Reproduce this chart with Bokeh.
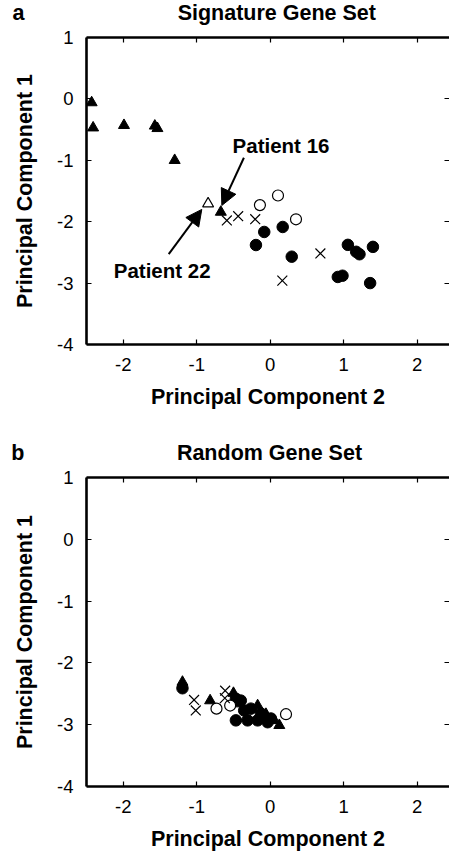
from bokeh.plotting import figure
from bokeh.layouts import column
from bokeh.models import Range1d, LinearAxis, FixedTicker, Label, Arrow, NormalHead
from bokeh.embed import file_html
from bokeh.resources import INLINE

FONT = "Liberation Sans"

# ---------------- data: panel a (Signature Gene Set) ----------------
a_tri_filled_x = [-2.43, -2.41, -1.99, -1.57, -1.535, -1.30, -0.672]
a_tri_filled_y = [-0.06, -0.47, -0.43, -0.44, -0.48, -1.00, -1.843]
a_tri_open_x = [-0.845]
a_tri_open_y = [-1.707]
a_circ_filled_x = [-0.081, -0.194, 0.17, 0.293, 1.057, 1.17, 1.215, 1.398, 0.92, 0.984, 1.36]
a_circ_filled_y = [-2.167, -2.38, -2.086, -2.57, -2.377, -2.49, -2.53, -2.41, -2.90, -2.88, -3.0]
a_circ_open_x = [-0.14, 0.106, 0.351]
a_circ_open_y = [-1.73, -1.573, -1.961]
a_cross_x = [-0.59, -0.436, -0.204, 0.683, 0.165]
a_cross_y = [-1.98, -1.91, -1.96, -2.517, -2.96]

# ---------------- data: panel b (Random Gene Set) ----------------
b_tri_filled_x = [-1.194, -0.818, -0.5, -0.42, -0.171, -0.058, 0.055, 0.124]
b_tri_filled_y = [-2.31, -2.61, -2.49, -2.66, -2.69, -2.83, -2.93, -3.01]
b_tri_open_x = []
b_tri_open_y = []
b_circ_filled_x = [-1.194, -0.467, -0.4, -0.467, -0.308, -0.354, -0.263, -0.171, -0.126, -0.035, 0.01]
b_circ_filled_y = [-2.41, -2.58, -2.61, -2.93, -2.93, -2.77, -2.74, -2.93, -2.82, -2.96, -2.9]
b_circ_open_x = [-0.731, -0.545, 0.215]
b_circ_open_y = [-2.74, -2.69, -2.83]
b_cross_x = [-1.036, -1.013, -0.613, -0.617]
b_cross_y = [-2.60, -2.77, -2.45, -2.57]

x_ticks = [-2, -1, 0, 1, 2]
y_ticks = [-4, -3, -2, -1, 0, 1]

# annotations for panel a
patient_labels = ["Patient 16", "Patient 22"]
patient_text_x = [0.147, -1.47]
patient_text_y = [-0.764, -2.80]
arrow_start_x = [-0.358, -1.381]
arrow_start_y = [-0.958, -2.528]
arrow_end_x = [-0.658, -0.931]
arrow_end_y = [-1.735, -1.80]

W = 449
X_START, X_END = -2.5, 2.44
BOLD_SIZE = "21.5px"


def style_axis(ax, ticks, labels=True):
    ax.major_tick_in = 5
    ax.major_tick_out = 0
    ax.minor_tick_line_color = None
    ax.major_tick_line_width = 1.2
    ax.major_tick_line_color = "black"
    ax.axis_line_width = 2.6
    ax.axis_line_color = "black"
    if labels:
        ax.major_label_overrides = {t: str(t) for t in ticks}
        ax.major_label_text_font = FONT
        ax.major_label_text_font_size = "18.5px"
        ax.major_label_text_color = "black"
        ax.major_label_standoff = 13
        ax.axis_label_text_font = FONT
        ax.axis_label_text_font_size = BOLD_SIZE
        ax.axis_label_text_font_style = "bold"
        ax.axis_label_text_color = "black"
    else:
        ax.major_label_text_font_size = "1px"
        ax.major_label_text_color = None
        ax.major_label_standoff = 0


def make_header(height, top_border, letter, title, title_x):
    # strip above each panel: panel letter (as an upright axis label) and the title
    h = figure(width=W, height=height, x_range=Range1d(X_START, X_END), y_range=Range1d(0, 1),
               output_backend="svg", toolbar_location=None,
               min_border_left=86, min_border_right=0,
               min_border_top=top_border, min_border_bottom=0,
               x_axis_location=None, y_axis_location=None)
    h.grid.visible = False
    h.outline_line_color = None
    lax = LinearAxis(ticker=FixedTicker(ticks=[]), axis_label=letter)
    lax.axis_line_color = None
    lax.major_tick_out = 0
    lax.major_tick_in = 0
    lax.minor_tick_line_color = None
    lax.major_label_text_font_size = "1px"
    lax.major_label_text_color = None
    lax.major_label_standoff = 0
    lax.axis_label_orientation = "horizontal"
    lax.axis_label_standoff = 62
    lax.axis_label_text_font = FONT
    lax.axis_label_text_font_size = "21.5px"
    lax.axis_label_text_font_style = "bold"
    lax.axis_label_text_color = "black"
    h.add_layout(lax, "left")
    h.add_layout(Label(x=title_x, y=0.5, text=title, text_font=FONT, text_font_size=BOLD_SIZE,
                       text_font_style="bold", text_align="center", text_baseline="middle",
                       text_color="black"))
    return h


def make_panel(height, top_border, bottom_border,
               tfx, tfy, tox, toy, cfx, cfy, cox, coy, xx, xy):
    p = figure(width=W, height=height,
               x_range=Range1d(X_START, X_END), y_range=Range1d(-4, 1),
               output_backend="svg", toolbar_location=None,
               min_border_left=86, min_border_right=0,
               min_border_top=top_border, min_border_bottom=bottom_border,
               x_axis_location=None, y_axis_location=None)
    p.grid.visible = False
    p.outline_line_color = None
    p.background_fill_color = "white"
    p.border_fill_color = "white"

    bottom = LinearAxis(ticker=FixedTicker(ticks=x_ticks), axis_label="Principal Component 2")
    style_axis(bottom, x_ticks)
    bottom.axis_label_standoff = 11
    p.add_layout(bottom, "below")

    left = LinearAxis(ticker=FixedTicker(ticks=y_ticks), axis_label="Principal Component 1")
    style_axis(left, y_ticks)
    left.axis_label_standoff = 17
    p.add_layout(left, "left")

    top = LinearAxis(ticker=FixedTicker(ticks=x_ticks))
    style_axis(top, x_ticks, labels=False)
    p.add_layout(top, "above")

    right = LinearAxis(ticker=FixedTicker(ticks=y_ticks))
    style_axis(right, y_ticks, labels=False)
    right.axis_line_color = None
    p.add_layout(right, "right")

    p.scatter(tfx, tfy, marker="triangle", size=11, fill_color="black", line_color="black")
    if tox:
        p.scatter(tox, toy, marker="triangle", size=11, fill_color="white",
                  line_color="black", line_width=1.1)
    p.scatter(cfx, cfy, marker="circle", size=11.5, fill_color="black", line_color="black")
    p.scatter(cox, coy, marker="circle", size=11, fill_color="white",
              line_color="black", line_width=1.2)
    p.scatter(xx, xy, marker="x", size=14, line_color="black", line_width=1.2)
    return p


ha = make_header(25, 0, "a", "Signature Gene Set", 0.09)

pa = make_panel(391, 12, 72,
                a_tri_filled_x, a_tri_filled_y, a_tri_open_x, a_tri_open_y,
                a_circ_filled_x, a_circ_filled_y, a_circ_open_x, a_circ_open_y,
                a_cross_x, a_cross_y)

for i in range(len(patient_labels)):
    pa.add_layout(Label(x=patient_text_x[i], y=patient_text_y[i], text=patient_labels[i],
                        text_font=FONT, text_font_size="20.5px", text_font_style="bold",
                        text_align="center", text_baseline="middle", text_color="black"))
    pa.add_layout(Arrow(end=NormalHead(size=16, fill_color="black", line_color="black"),
                        x_start=arrow_start_x[i], y_start=arrow_start_y[i],
                        x_end=arrow_end_x[i], y_end=arrow_end_y[i],
                        line_width=2, line_color="black"))

hb = make_header(48, 24, "b", "Random Gene Set", -0.01)

pb = make_panel(394, 13, 72,
                b_tri_filled_x, b_tri_filled_y, b_tri_open_x, b_tri_open_y,
                b_circ_filled_x, b_circ_filled_y, b_circ_open_x, b_circ_open_y,
                b_cross_x, b_cross_y)

layout = column(ha, pa, hb, pb)
open("out.html", "w").write(file_html(layout, INLINE))
